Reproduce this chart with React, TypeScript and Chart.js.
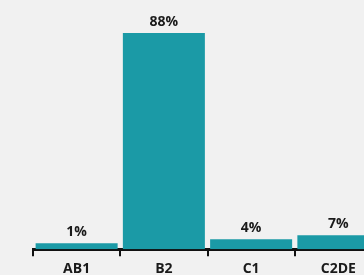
import React, { useEffect, useRef } from "react";
import { Chart, registerables } from "chart.js";

Chart.register(...registerables);

const categories = ["AB1", "B2", "C1", "C2DE"];
// bar heights as drawn in the picture (percent units)
const barValues = [2.4, 88, 4.1, 5.7];
// labels printed above the bars
const shareLabels = ["1%", "88%", "4%", "7%"];

const FONT = "'Open Sans', 'Noto Sans', sans-serif";

const valueLabelPlugin = {
  id: "valueLabels",
  afterDatasetsDraw(chart: any) {
    const ctx = chart.ctx;
    const meta = chart.getDatasetMeta(0);
    ctx.save();
    ctx.font = `bold 14px ${FONT}`;
    ctx.fillStyle = "#1a1a1a";
    ctx.textAlign = "center";
    ctx.textBaseline = "bottom";
    meta.data.forEach((bar: any, i: number) => {
      ctx.fillText(shareLabels[i], bar.x, bar.y - 4);
    });
    ctx.restore();
  },
};

const bgPlugin = {
  id: "bg",
  beforeDraw(chart: any) {
    const ctx = chart.ctx;
    ctx.save();
    ctx.fillStyle = "#f1f1f1";
    ctx.fillRect(0, 0, chart.width, chart.height);
    ctx.restore();
  },
};

export default function App() {
  const ref = useRef<HTMLCanvasElement>(null);
  useEffect(() => {
    if (!ref.current) return;
    const chart = new Chart(ref.current, {
      type: "bar",
      data: {
        labels: categories,
        datasets: [
          {
            data: barValues,
            backgroundColor: "#1b9aa6",
            barPercentage: 0.94,
            categoryPercentage: 1,
          },
        ],
      },
      options: {
        animation: false,
        responsive: false,
        maintainAspectRatio: false,
        layout: { padding: { left: 33, right: 8, top: 33, bottom: 0 } },
        plugins: { legend: { display: false }, tooltip: { enabled: false } },
        scales: {
          y: { display: false, min: 0, max: 88 },
          x: {
            offset: true,
            border: { display: true, color: "#111", width: 3 },
            grid: {
              display: true,
              offset: true,
              drawOnChartArea: false,
              drawTicks: true,
              tickLength: 7,
              color: "#111",
              lineWidth: 2,
            },
            ticks: {
              color: "#1a1a1a",
              font: { family: FONT, size: 14, weight: "bold" },
              padding: 4,
            },
          },
        },
      },
      plugins: [bgPlugin, valueLabelPlugin],
    });
    return () => chart.destroy();
  }, []);
  return (
    <div
      style={{
        position: "fixed",
        left: 0,
        top: 0,
        width: 364,
        height: 275,
        overflow: "hidden",
        background: "#f1f1f1",
      }}
    >
      <canvas ref={ref} width={390} height={281} style={{ display: "block" }} />
    </div>
  );
}
